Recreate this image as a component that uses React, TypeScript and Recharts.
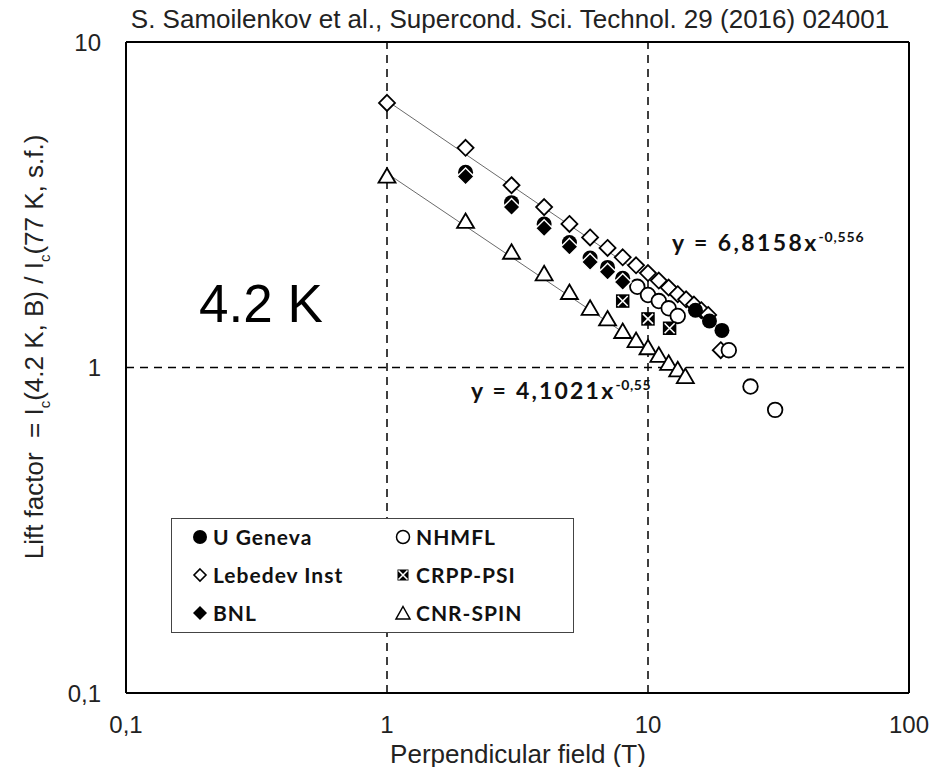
import React from "react"
import {
  ScatterChart, Scatter, XAxis, YAxis, ReferenceLine
} from "recharts"

// field (T) vs lift factor
const uGeneva = [
  { x: 2, y: 3.98 }, { x: 3, y: 3.21 }, { x: 4, y: 2.76 }, { x: 5, y: 2.42 },
  { x: 6, y: 2.17 }, { x: 7, y: 2.03 }, { x: 8, y: 1.88 },
  { x: 15.2, y: 1.5 }, { x: 17.2, y: 1.39 }, { x: 19.2, y: 1.3 },
]
const bnl = [
  { x: 2, y: 3.86 }, { x: 3, y: 3.11 }, { x: 4, y: 2.68 }, { x: 5, y: 2.35 },
  { x: 6, y: 2.11 }, { x: 7, y: 1.97 }, { x: 8, y: 1.83 },
]
const lebedev = [
  { x: 1, y: 6.5 }, { x: 2, y: 4.73 }, { x: 3, y: 3.63 }, { x: 4, y: 3.11 },
  { x: 5, y: 2.76 }, { x: 6, y: 2.51 }, { x: 7, y: 2.33 }, { x: 8, y: 2.18 },
  { x: 9, y: 2.06 }, { x: 10, y: 1.95 }, { x: 11, y: 1.85 }, { x: 12, y: 1.76 },
  { x: 13, y: 1.68 }, { x: 14, y: 1.62 }, { x: 15, y: 1.56 }, { x: 16, y: 1.5 },
  { x: 17, y: 1.45 }, { x: 19, y: 1.13 },
]
const nhmfl = [
  { x: 9.1, y: 1.77 }, { x: 10, y: 1.67 }, { x: 11, y: 1.6 }, { x: 12, y: 1.52 },
  { x: 13, y: 1.44 }, { x: 20.4, y: 1.13 }, { x: 24.7, y: 0.874 }, { x: 30.7, y: 0.741 },
]
const crpp = [
  { x: 8, y: 1.6 }, { x: 10, y: 1.41 }, { x: 12.1, y: 1.32 },
]
const cnrSpin = [
  { x: 1, y: 3.87 }, { x: 2, y: 2.81 }, { x: 3, y: 2.26 }, { x: 4, y: 1.94 },
  { x: 5, y: 1.7 }, { x: 6, y: 1.52 }, { x: 7, y: 1.41 }, { x: 8, y: 1.29 },
  { x: 9, y: 1.21 }, { x: 10, y: 1.15 }, { x: 11, y: 1.09 }, { x: 12, y: 1.03 },
  { x: 13, y: 0.984 }, { x: 13.9, y: 0.938 },
]
// power-law fit lines (straight on log-log), end points
const fitLebedev = [{ x: 1, y: 6.6 }, { x: 18.5, y: 1.34 }]
const fitCnr = [{ x: 1, y: 3.95 }, { x: 14, y: 0.95 }]

const xTicks = [0.1, 1, 10, 100]
const yTicks = [0.1, 1, 10]

const fmt = (v: number) => String(v).replace(".", ",")

const BLACK = "#000"

const Dot = (p: any) => <circle cx={p.cx} cy={p.cy} r={7.5} fill={BLACK} />
const OpenDot = (p: any) => (
  <circle cx={p.cx} cy={p.cy} r={7.3} fill="#fff" stroke={BLACK} strokeWidth={1.8} />
)
const OpenDiamond = (p: any) => (
  <path d={`M${p.cx},${p.cy - 8}L${p.cx + 8},${p.cy}L${p.cx},${p.cy + 8}L${p.cx - 8},${p.cy}Z`}
    fill="#fff" stroke={BLACK} strokeWidth={1.8} />
)
const FilledDiamond = (p: any) => (
  <path d={`M${p.cx},${p.cy - 8.5}L${p.cx + 8.5},${p.cy}L${p.cx},${p.cy + 8.5}L${p.cx - 8.5},${p.cy}Z`}
    fill={BLACK} stroke="#fff" strokeWidth={1.4} />
)
const BoxX = (p: any) => (
  <g>
    <rect x={p.cx - 6} y={p.cy - 6} width={12} height={12} fill={BLACK} stroke={BLACK} strokeWidth={1.5} />
    <path d={`M${p.cx - 5},${p.cy - 5}L${p.cx + 5},${p.cy + 5}M${p.cx + 5},${p.cy - 5}L${p.cx - 5},${p.cy + 5}`}
      stroke="#fff" strokeWidth={1.6} />
  </g>
)
const Triangle = (p: any) => (
  <path d={`M${p.cx},${p.cy - 8}L${p.cx + 8.5},${p.cy + 6.5}L${p.cx - 8.5},${p.cy + 6.5}Z`}
    fill="#fff" stroke={BLACK} strokeWidth={1.8} />
)
const NoDot = () => <g />

const legendItems = [
  { name: "U Geneva", icon: "dot" }, { name: "NHMFL", icon: "open" },
  { name: "Lebedev Inst", icon: "odia" }, { name: "CRPP-PSI", icon: "box" },
  { name: "BNL", icon: "fdia" }, { name: "CNR-SPIN", icon: "tri" },
]

function Icon({ kind }: { kind: string }) {
  const c = 9
  let el: any = null
  if (kind === "dot") el = <circle cx={c} cy={c} r={7} fill={BLACK} />
  if (kind === "open") el = <circle cx={c} cy={c} r={6.5} fill="#fff" stroke={BLACK} strokeWidth={1.5} />
  if (kind === "odia") el = <path d="M9,3L15,9L9,15L3,9Z" fill="#fff" stroke={BLACK} strokeWidth={1.6} />
  if (kind === "fdia") el = <path d="M9,2L16,9L9,16L2,9Z" fill={BLACK} />
  if (kind === "box") el = (
    <g>
      <rect x={3.5} y={3.5} width={11} height={11} fill={BLACK} />
      <path d="M4.5,4.5L13.5,13.5M13.5,4.5L4.5,13.5" stroke="#fff" strokeWidth={1.5} />
    </g>
  )
  if (kind === "tri") el = <path d="M9,2.5L16,15L2,15Z" fill="#fff" stroke={BLACK} strokeWidth={1.5} />
  return <svg width={18} height={18} style={{ display: "block" }}>{el}</svg>
}

const abs = (s: React.CSSProperties): React.CSSProperties => ({ position: "absolute", whiteSpace: "nowrap", ...s })

export default function App() {
  const sans = "'Liberation Sans', Arial, sans-serif"
  const bold = "Lato, 'Open Sans', sans-serif"
  return (
    <div style={{ position: "relative", width: 937, height: 775, margin: -8, background: "#fff" }}>
      <ScatterChart width={937} height={775} margin={{ top: 42, right: 28, bottom: 22, left: 0 }}>
        <XAxis type="number" dataKey="x" scale="log" domain={[0.1, 100]} ticks={xTicks}
          allowDataOverflow tickFormatter={fmt} height={60} tickLine={false} tickSize={0} tickMargin={23}
          axisLine={{ stroke: BLACK, strokeWidth: 2 }}
          tick={{ fill: "#222", fontSize: 24, fontFamily: sans }} />
        <YAxis type="number" dataKey="y" scale="log" domain={[0.1, 10]} ticks={yTicks}
          allowDataOverflow tickFormatter={fmt} width={126} tickLine={false} tickSize={0} tickMargin={25}
          axisLine={{ stroke: BLACK, strokeWidth: 2 }}
          tick={{ fill: "#222", fontSize: 24, fontFamily: sans }} />
        <ReferenceLine x={1} stroke={BLACK} strokeWidth={1.5} strokeDasharray="8 6" />
        <ReferenceLine x={10} stroke={BLACK} strokeWidth={1.5} strokeDasharray="8 6" />
        <ReferenceLine y={1} stroke={BLACK} strokeWidth={1.5} strokeDasharray="8 6" />
        <ReferenceLine x={100} stroke={BLACK} strokeWidth={2} />
        <ReferenceLine y={10} stroke={BLACK} strokeWidth={2} />
        <Scatter data={fitLebedev} line={{ stroke: "#6a6a6a", strokeWidth: 1 }} shape={NoDot} isAnimationActive={false} />
        <Scatter data={fitCnr} line={{ stroke: "#6a6a6a", strokeWidth: 1 }} shape={NoDot} isAnimationActive={false} />
        <Scatter name="Lebedev Inst" data={lebedev} shape={OpenDiamond} isAnimationActive={false} />
        <Scatter name="CNR-SPIN" data={cnrSpin} shape={Triangle} isAnimationActive={false} />
        <Scatter name="NHMFL" data={nhmfl} shape={OpenDot} isAnimationActive={false} />
        <Scatter name="CRPP-PSI" data={crpp} shape={BoxX} isAnimationActive={false} />
        <Scatter name="U Geneva" data={uGeneva} shape={Dot} isAnimationActive={false} />
        <Scatter name="BNL" data={bnl} shape={FilledDiamond} isAnimationActive={false} />
      </ScatterChart>

      <div style={abs({ left: 510, top: 4, transform: "translateX(-50%)", fontFamily: sans, fontSize: 26, color: "#222" })}>
        S. Samoilenkov et al., Supercond. Sci. Technol. 29 (2016) 024001
      </div>
      <div style={abs({ left: 518, top: 739, transform: "translateX(-50%)", fontFamily: sans, fontSize: 26, color: "#222" })}>
        Perpendicular field (T)
      </div>
      <div style={abs({ left: 36, top: 347, transform: "translate(-50%, -50%) rotate(-90deg)", fontFamily: sans, fontSize: 26, color: "#222" })}>
        Lift factor&nbsp; = I<sub style={{ fontSize: 15 }}>c</sub>(4.2 K, B) / I<sub style={{ fontSize: 15 }}>c</sub>(77 K, s.f.)
      </div>
      <div style={abs({ left: 199, top: 273, fontFamily: sans, fontSize: 53, color: BLACK })}>4.2 K</div>
      <div style={abs({ left: 672, top: 228, fontFamily: bold, fontWeight: 700, fontSize: 23, letterSpacing: 2.4, color: "#111" })}>
        y = 6,8158x<sup style={{ fontSize: 14, letterSpacing: 0.8 }}>-0,556</sup>
      </div>
      <div style={abs({ left: 471, top: 376, fontFamily: bold, fontWeight: 700, fontSize: 23, letterSpacing: 2.2, color: "#111" })}>
        y = 4,1021x<sup style={{ fontSize: 14, letterSpacing: 0.6 }}>-0,55</sup>
      </div>

      <div style={abs({ left: 171, top: 518, width: 401, height: 113, border: "1px solid #444", background: "#fff" })}>
        {legendItems.map((it, i) => (
          <div key={it.name} style={abs({
            left: (i % 2) * 203 + 19, top: Math.floor(i / 2) * 38 + 5,
            display: "flex", alignItems: "center", gap: 4,
            fontFamily: bold, fontWeight: 700, fontSize: 21, letterSpacing: 1, color: "#111",
          })}>
            <Icon kind={it.icon} />
            <span>{it.name}</span>
          </div>
        ))}
      </div>
    </div>
  )
}
